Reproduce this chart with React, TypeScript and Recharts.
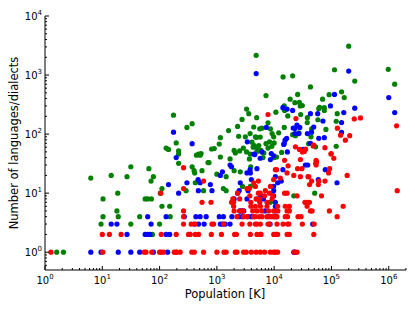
import { Scatter, ScatterChart, XAxis, YAxis } from "recharts";

// [population in K, number of languages/dialects]
const greenPts: [number, number][] = [
  [1.6, 1], [2.1, 1], [6.3, 18], [9.5, 3], [10.3, 4], [10.3, 8], [14.3, 20], [18, 5],
  [18.6, 10], [19, 4], [27, 19], [31.5, 28], [31.5, 3], [45, 4], [56, 8], [62, 8],
  [72, 8], [65, 26], [78, 19], [71, 16], [75, 2], [100, 3], [103, 10], [110, 12],
  [110, 6], [150, 6], [153, 4], [175, 209], [130, 58], [143, 55], [195, 71], [215, 46],
  [215, 32], [215, 52], [290, 11], [300, 130], [370, 150], [370, 28], [400, 24], [410, 22],
  [440, 44], [480, 46], [510, 44], [530, 47], [420, 15], [550, 24], [586, 11], [700, 33],
  [730, 33], [810, 56], [900, 57], [1000, 21], [1150, 87], [1100, 68], [1150, 41], [1300, 12],
  [1450, 19], [1450, 11], [1600, 115], [1700, 38], [2000, 53], [2000, 24], [2100, 48], [2300, 135],
  [2400, 92], [2500, 52], [2560, 23], [2750, 177], [2800, 13], [2900, 58], [3140, 90], [3300, 265],
  [3600, 222], [3300, 50], [3700, 38], [3800, 102], [3840, 46], [3840, 13], [3900, 28], [4100, 73],
  [4300, 60], [4400, 132], [4500, 64], [4700, 90], [4900, 88], [4950, 190], [4850, 2160], [5000, 51],
  [5000, 8], [5100, 56], [5400, 64], [5600, 123], [5700, 89], [5900, 53], [6100, 126], [6400, 40],
  [6600, 48], [7200, 450], [7200, 69], [7800, 155], [7800, 58], [8300, 74], [8600, 123], [8600, 7],
  [9100, 62], [9200, 102], [9800, 90], [10000, 71], [10000, 40], [10000, 4], [11000, 41], [10700, 235],
  [12000, 105], [13500, 49], [14300, 930], [14500, 287], [15000, 300], [15000, 130], [15200, 252], [17300, 203],
  [19000, 390], [21000, 970], [21000, 98], [22000, 9], [23000, 340], [23500, 94], [25700, 470], [27000, 105],
  [27500, 345], [28500, 300], [29000, 215], [31000, 305], [37800, 157], [38000, 190], [40000, 69], [43000, 630],
  [44000, 90], [45000, 123], [51000, 10], [53000, 61], [58000, 175], [60000, 270], [62000, 285], [70000, 390],
  [75000, 280], [75000, 252], [80000, 120], [91000, 465], [113000, 1230], [121000, 62], [121000, 165], [126000, 222],
  [150000, 520], [167000, 415], [200000, 3080], [255000, 790], [980000, 1250], [1270000, 700],
];

const bluePts: [number, number][] = [
  [6.3, 1], [9.5, 1], [19, 1], [31.5, 1], [45, 1], [78, 1], [138, 1], [14.3, 3],
  [18, 3], [27, 2], [56, 2], [62, 2], [68, 2], [130, 2], [150, 2], [71, 3],
  [62, 4], [130, 4], [143, 14], [215, 10], [195, 40], [175, 108], [370, 69], [300, 15],
  [475, 11], [470, 17], [510, 15], [770, 14], [820, 11], [400, 3], [480, 3], [600, 3],
  [1150, 3], [1250, 3], [1400, 3], [1700, 3], [270, 4], [430, 4], [510, 4], [650, 4],
  [1100, 4], [1300, 4], [1830, 4], [2400, 4], [2750, 4], [3500, 4], [4000, 4], [1150, 20],
  [1250, 23], [1700, 30], [1800, 28], [2000, 8], [2300, 10], [2450, 11], [2500, 5], [2560, 15],
  [2700, 5], [2950, 5], [3350, 22], [3350, 8], [3400, 74], [3500, 11], [3800, 25], [3840, 22],
  [4000, 17], [4400, 46], [4600, 45], [4850, 1060], [5000, 26], [5700, 39], [5800, 9], [6000, 9],
  [6100, 50], [6500, 8], [6900, 5], [7300, 130], [7800, 4], [8500, 3], [8600, 37], [8900, 47],
  [9800, 43], [9800, 9], [9800, 11], [9800, 13], [10500, 19], [10500, 7], [10500, 6], [10500, 5],
  [10700, 4], [11500, 15], [13300, 16], [14200, 25], [14200, 280], [14700, 67], [15000, 70], [15500, 79],
  [16500, 85], [16800, 265], [17000, 50], [21000, 252], [21500, 127], [22000, 1], [23000, 1], [23000, 102],
  [23000, 125], [25000, 142], [27000, 102], [28000, 130], [32000, 55], [35000, 30], [38000, 102], [38500, 30],
  [43000, 70], [43000, 222], [45000, 108], [47000, 3], [49000, 132], [57500, 222], [59000, 17], [60000, 85],
  [71000, 166], [75000, 87], [78000, 25], [96000, 300], [113000, 470], [125000, 15], [150000, 107], [150000, 157],
  [164000, 232], [200000, 1170], [255000, 275], [1000000, 415], [1270000, 232],
];

const redPts: [number, number][] = [
  [1.27, 1], [10.2, 1], [54, 1], [58, 1], [73, 1], [100, 1], [107, 1], [117, 1],
  [180, 1], [195, 1], [200, 1], [229, 1], [365, 1], [404, 1], [586, 1], [1000, 1],
  [1330, 1], [1450, 1], [2100, 1], [2240, 1], [2930, 1], [3250, 1], [3990, 1], [4850, 1],
  [5740, 1], [6810, 1], [8590, 1], [9820, 1], [10500, 1], [11500, 1], [22600, 1], [25100, 1],
  [10, 2], [13.3, 2], [21.3, 2], [107, 2], [195, 2], [320, 2], [343, 2], [420, 2],
  [480, 2], [800, 2], [1200, 2], [2040, 2], [2190, 2], [3840, 2], [5010, 2], [5740, 2],
  [5900, 2], [9820, 2], [10200, 2], [11000, 2], [11500, 2], [16800, 2], [18400, 2], [49100, 2],
  [262, 3], [355, 3], [420, 3], [820, 3], [877, 3], [1310, 3], [2750, 3], [3760, 3],
  [4690, 3], [5010, 3], [5740, 3], [7800, 3], [8300, 3], [11200, 3], [14300, 3], [17100, 3],
  [18000, 3], [31000, 3], [50000, 3],
  [262, 4], [2240, 4], [2930, 4], [3350, 4], [4390, 4], [4690, 4], [5500, 4], [6160, 4],
  [7500, 4], [8590, 4], [9200, 4], [10500, 4], [11200, 4], [15600, 4], [17100, 4], [26100, 4],
  [29500, 4], [125600, 4],
  [262, 5], [2000, 5], [2560, 5], [2860, 5], [4220, 5], [5010, 5], [6080, 5], [8000, 5],
  [9820, 5], [11600, 5], [16800, 5], [18400, 5], [42950, 5], [45900, 5], [92000, 5],
  [1960, 6], [3920, 6], [4690, 6], [5740, 6], [7500, 6], [11500, 6], [15600, 6], [18400, 6],
  [37550, 6], [160000, 6],
  [550, 7], [790, 7], [1800, 7], [1960, 7], [3920, 7], [5600, 7], [7500, 7], [34400, 7],
  [37550, 7], [41300, 7],
  [1900, 8], [2500, 8], [4850, 8], [5600, 8], [9200, 8],
  [3760, 9], [6810, 9], [9500, 9], [25100, 9], [67000, 9],
  [105, 10], [2300, 10], [5300, 10], [5700, 10], [8300, 10], [15200, 10], [16800, 10],
  [262, 12], [262, 27], [586, 16], [3350, 12], [3700, 12], [4400, 15], [4700, 13], [5300, 16],
  [7000, 11], [7800, 215], [8600, 13], [9800, 17], [10500, 25], [11000, 25], [12800, 18], [15200, 36],
  [16800, 22], [17500, 29], [22000, 20], [23500, 61], [24000, 183], [25600, 26], [27600, 55], [28700, 37],
  [28700, 19], [30500, 26], [31000, 50], [32800, 52], [33600, 51], [35500, 56], [39000, 19], [40000, 19],
  [41500, 14], [45000, 16], [48000, 63], [49000, 65], [53000, 32], [54000, 36], [54000, 30], [55000, 34],
  [59000, 14], [60000, 16], [77000, 16], [77000, 59], [89000, 22], [93000, 26], [98000, 46], [99000, 47],
  [110000, 39], [127000, 126], [144000, 96], [175000, 79], [188000, 20], [208000, 94], [250000, 181], [321000, 188],
  [1370000, 138], [1406000, 11],
];

const xMajor = [1, 10, 100, 1000, 10000, 100000, 1000000];
const yMajor = [1, 10, 100, 1000, 10000];
const minorSteps = [2, 3, 4, 5, 6, 7, 8, 9];

const xTicks = [
  ...xMajor,
  ...xMajor.flatMap((m) => minorSteps.map((s) => m * s)).filter((v) => v <= 2000000),
];
const yTicks = [
  ...yMajor,
  0.6, 0.7, 0.8, 0.9,
  ...yMajor.slice(0, 4).flatMap((m) => minorSteps.map((s) => m * s)),
];

const font = "'DejaVu Sans', sans-serif";

const toData = (pts: [number, number][]) => pts.map(([x, y]) => ({ x, y }));

const expOf = (v: number) => {
  const e = Math.round(Math.log10(v));
  return Math.abs(Math.pow(10, e) - v) < 1e-6 * v ? e : null;
};

function XTick(props: any) {
  const { x, y, payload, side } = props;
  const e = expOf(payload.value);
  const len = e !== null ? 4 : 2;
  const top = side === "top";
  return (
    <g>
      <line x1={x} x2={x} y1={y} y2={top ? y + len : y - len} stroke="#000" strokeWidth={1} />
      {e !== null && !top && (
        <text x={x} y={y + 13.5} textAnchor="middle" fontSize={10} fontFamily={font} fill="#000">
          10<tspan dy={-5} fontSize={7}>{e}</tspan>
        </text>
      )}
    </g>
  );
}

function YTick(props: any) {
  const { x, y, payload, side } = props;
  const e = expOf(payload.value);
  const len = e !== null ? 4 : 2;
  const right = side === "right";
  return (
    <g>
      <line x1={x} x2={right ? x - len : x + len} y1={y} y2={y} stroke="#000" strokeWidth={1} />
      {e !== null && !right && (
        <text x={x - 3} y={y + 4} textAnchor="end" fontSize={10} fontFamily={font} fill="#000">
          10<tspan dy={-5} fontSize={7}>{e}</tspan>
        </text>
      )}
    </g>
  );
}

const dot = (color: string) => (p: any) => <circle cx={p.cx} cy={p.cy} r={2.6} fill={color} />;

export default function App() {
  return (
    <div style={{ position: "absolute", left: 0, top: 0, width: 415, height: 312, background: "#fff" }}>
      <ScatterChart width={415} height={312} margin={{ top: 16, right: 9, left: 0, bottom: 0 }}>
        <XAxis
          xAxisId="b"
          dataKey="x"
          type="number"
          scale="log"
          domain={[1, 2000000]}
          allowDataOverflow
          ticks={xTicks}
          interval={0}
          height={42}
          tickSize={0}
          tickMargin={0}
          tickLine={false}
          axisLine={{ stroke: "#000" }}
          tick={<XTick side="bottom" />}
        />
        <XAxis
          xAxisId="t"
          orientation="top"
          dataKey="x"
          type="number"
          scale="log"
          domain={[1, 2000000]}
          allowDataOverflow
          ticks={xTicks}
          interval={0}
          height={0}
          tickSize={0}
          tickMargin={0}
          tickLine={false}
          axisLine={{ stroke: "#000" }}
          tick={<XTick side="top" />}
        />
        <YAxis
          yAxisId="l"
          dataKey="y"
          type="number"
          scale="log"
          domain={[0.5, 10000]}
          allowDataOverflow
          ticks={yTicks}
          interval={0}
          width={45}
          tickSize={0}
          tickMargin={0}
          tickLine={false}
          axisLine={{ stroke: "#000" }}
          tick={<YTick side="left" />}
        />
        <YAxis
          yAxisId="r"
          orientation="right"
          dataKey="y"
          type="number"
          scale="log"
          domain={[0.5, 10000]}
          allowDataOverflow
          ticks={yTicks}
          interval={0}
          width={0}
          tickSize={0}
          tickMargin={0}
          tickLine={false}
          axisLine={{ stroke: "#000" }}
          tick={<YTick side="right" />}
        />
        <Scatter xAxisId="b" yAxisId="l" data={toData(greenPts)} shape={dot("#008000")} isAnimationActive={false} />
        <Scatter xAxisId="b" yAxisId="l" data={toData(bluePts)} shape={dot("#0000ff")} isAnimationActive={false} />
        <Scatter xAxisId="b" yAxisId="l" data={toData(redPts)} shape={dot("#ff0000")} isAnimationActive={false} />
      </ScatterChart>
      <svg
        width={415}
        height={312}
        style={{ position: "absolute", left: 0, top: 0, pointerEvents: "none" }}
      >
        <text x={225} y={298} textAnchor="middle" fontSize={11.5} fontFamily={font} fill="#000">
          Population [K]
        </text>
        <text
          transform="translate(18,143) rotate(-90)"
          textAnchor="middle"
          fontSize={11.5}
          fontFamily={font}
          fill="#000"
        >
          Number of languages/dialects
        </text>
      </svg>
    </div>
  );
}
